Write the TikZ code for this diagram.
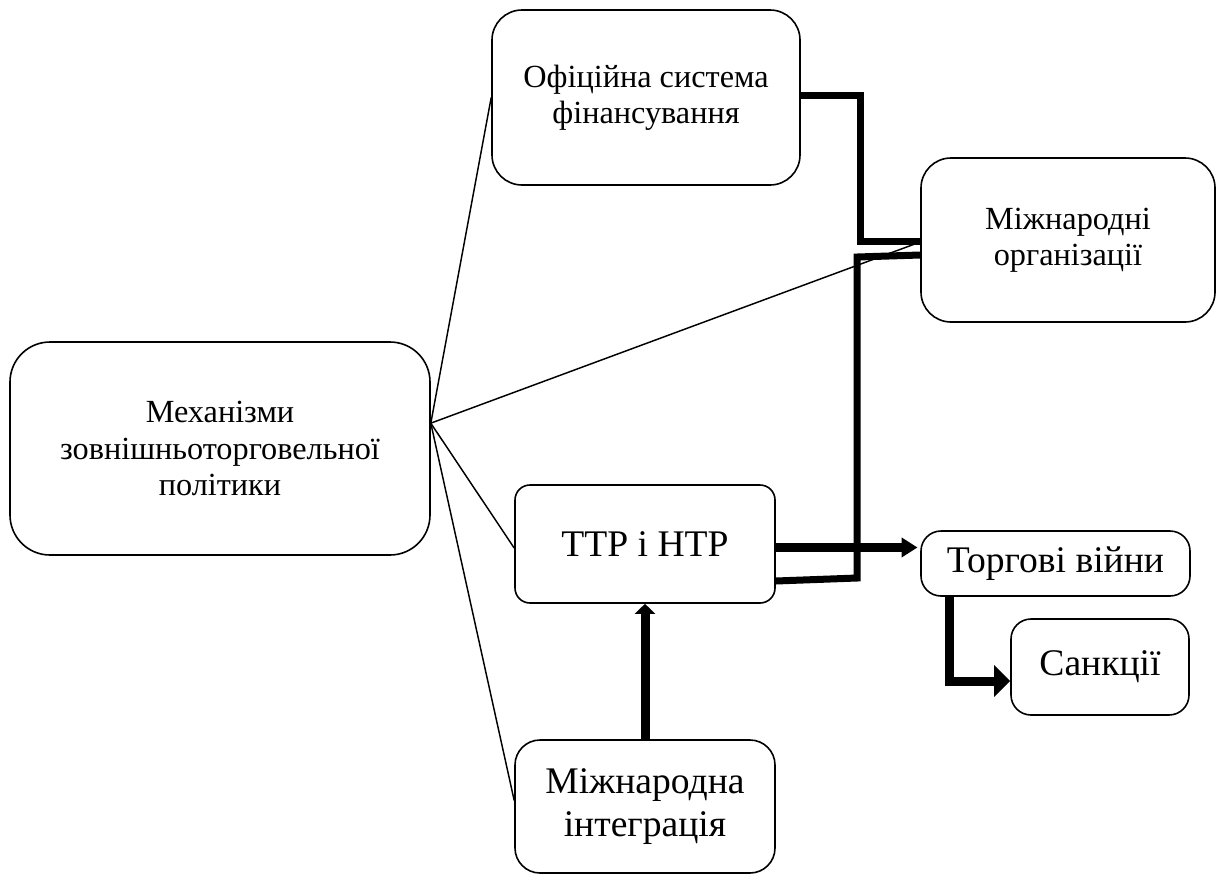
\documentclass[tikz,border=0pt]{standalone}
\usepackage{fontspec}
\setmainfont{Liberation Serif}
\usetikzlibrary{arrows.meta}
\begin{document}
\begin{tikzpicture}[x=0.75pt,y=-0.75pt,
  box/.style={draw=black, line width=1.2pt, inner sep=0pt, align=center},
  smalltext/.style={font=\fontsize{24.2}{27.3}\selectfont},
  bigtext/.style={font=\fontsize{28.2}{32.5}\selectfont},
  thinline/.style={line width=1.1pt},
  thickline/.style={line width=5.25pt},
  thickarrow/.style={line width=6.75pt}
]
\useasboundingbox (0,0) rectangle (1221,875);
\node[box, smalltext, minimum width=315pt, minimum height=159.75pt, rounded corners=30pt] (m) at (220,448.5) {Механізми\\зовнішньоторговельної\\політики};
\node[box, smalltext, minimum width=231pt, minimum height=131.25pt, rounded corners=22.5pt] (o) at (646,97.5) {Офіційна система\\фінансування};
\node[box, smalltext, minimum width=220.5pt, minimum height=123pt, rounded corners=22.5pt] (org) at (1068,240) {Міжнародні\\організації};
\node[box, bigtext, minimum width=195pt, minimum height=88.5pt, rounded corners=11.25pt] (t) at (645,544) {ТТР і НТР};
\node[box, bigtext, minimum width=201.75pt, minimum height=48.75pt, rounded corners=15pt] (w) at (1055.5,563.5) {Торгові війни};
\node[box, bigtext, minimum width=133.5pt, minimum height=72pt, rounded corners=15pt] (s) at (1100,667) {Санкції};
\node[box, bigtext, minimum width=195pt, minimum height=99.75pt, rounded corners=18.75pt] (i) at (645,806.5) {Міжнародна\\інтеграція};

\coordinate (mv) at ([yshift=19pt]m.east);
\draw[thinline] (mv) -- (o.west);
\draw[thinline] (mv) -- ([yshift=-1.5pt]org.west);
\draw[thinline] (mv) -- ([yshift=-3pt]t.west);
\draw[thinline] (mv) -- ([yshift=4.5pt]i.west);

\draw[thickline] ([yshift=1.5pt]o.east) -- ++(60,0) |- ([yshift=-0.75pt]org.west);
\coordinate (org2) at ([yshift=-11.25pt]org.west);
\coordinate (t2) at ([yshift=-27.75pt]t.east);
\draw[thickline] (org2) -- ++(-63,2) -- ++(0,321) -- (t2);

\coordinate (ta) at ([yshift=-2.6pt]t.east);
\draw[thickarrow, -{Triangle[length=12pt,width=14.25pt]}, shorten >=2pt] (ta) -- (ta -| w.west);
\draw[thickarrow, -{Triangle[length=7.5pt,width=15pt]}] (i.north) -- (t.south);
\coordinate (wd) at ([xshift=-79.5pt]w.south);
\coordinate (sw) at ([yshift=-10.5pt]s.west);
\draw[thickarrow, -{Triangle[length=12pt,width=23pt]}] (wd) |- (sw);
\end{tikzpicture}
\end{document}
